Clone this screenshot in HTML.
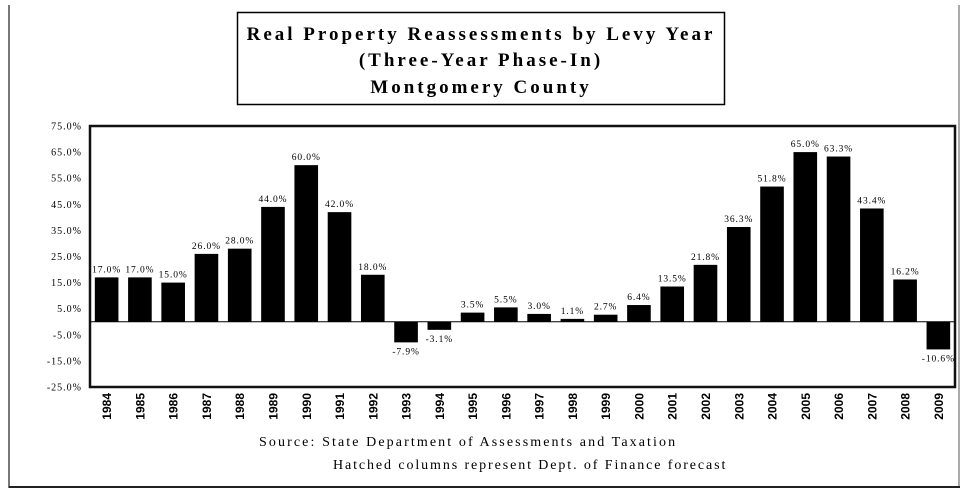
<!DOCTYPE html>
<html><head><meta charset="utf-8"><style>
html,body{margin:0;padding:0;background:#fff;width:965px;height:491px;overflow:hidden}
svg{display:block}
text{font-family:"Liberation Serif",serif;fill:#000}
</style></head><body>
<svg id="chart" width="965" height="491">
<line x1="9" y1="5" x2="9" y2="488" stroke="#777" stroke-width="2"/>
<line x1="959" y1="5" x2="959" y2="486" stroke="#555" stroke-width="1"/>
<line x1="9" y1="487" x2="960" y2="487" stroke="#222" stroke-width="2"/>
<g>
<rect x="237.5" y="12.5" width="487" height="92" fill="#fff" stroke="#000" stroke-width="1.5"/>
<text x="481" y="40" text-anchor="middle" font-size="19" font-weight="bold" letter-spacing="3">Real Property Reassessments by Levy Year</text>
<text x="481" y="66" text-anchor="middle" font-size="19" font-weight="bold" letter-spacing="3">(Three-Year Phase-In)</text>
<text x="481" y="93" text-anchor="middle" font-size="19" font-weight="bold" letter-spacing="3">Montgomery County</text>
</g>
<rect x="90" y="126" width="865" height="261" fill="#fff" stroke="#111" stroke-width="2.5"/>
<g id="bars"></g>
<g id="yaxis"></g>
<g id="xaxis"></g>
<text x="259" y="446" font-size="14" letter-spacing="2.1">Source:  State Department of Assessments and Taxation</text>
<text x="333" y="469" font-size="14" letter-spacing="1.9">Hatched columns represent Dept. of Finance forecast</text>
</svg>
<script>
const years = ["1984","1985","1986","1987","1988","1989","1990","1991","1992","1993","1994","1995","1996","1997","1998","1999","2000","2001","2002","2003","2004","2005","2006","2007","2008","2009"];
const values = [17.0,17.0,15.0,26.0,28.0,44.0,60.0,42.0,18.0,-7.9,-3.1,3.5,5.5,3.0,1.1,2.7,6.4,13.5,21.8,36.3,51.8,65.0,63.3,43.4,16.2,-10.6];
const labels = ["17.0%","17.0%","15.0%","26.0%","28.0%","44.0%","60.0%","42.0%","18.0%","-7.9%","-3.1%","3.5%","5.5%","3.0%","1.1%","2.7%","6.4%","13.5%","21.8%","36.3%","51.8%","65.0%","63.3%","43.4%","16.2%","-10.6%"];
const yTicks = [75,65,55,45,35,25,15,5,-5,-15,-25];
const yTickLabels = ["75.0%","65.0%","55.0%","45.0%","35.0%","25.0%","15.0%","5.0%","-5.0%","-15.0%","-25.0%"];
const NS="http://www.w3.org/2000/svg";
const L=90,R=955,T=126,B=387,ymax=75,ymin=-25;
const y=v=>T+(ymax-v)/(ymax-ymin)*(B-T);
const band=(R-L)/years.length;
const xc=i=>L+band*(i+0.5);
const bw=band*0.71;
const bars=document.getElementById('bars'),ya=document.getElementById('yaxis'),xa=document.getElementById('xaxis');
function mk(t,a,p){const e=document.createElementNS(NS,t);for(const k in a)e.setAttribute(k,a[k]);p.appendChild(e);return e;}
years.forEach((yr,i)=>{
  const v=values[i],y0=y(0),yv=y(v);
  const r=mk('rect',{x:xc(i)-bw/2,y:Math.min(y0,yv),width:bw,height:Math.abs(yv-y0),fill:'#000'},bars);
  
  
  const t=mk('text',{x:xc(i),y:v>=0?yv-5:yv+12,'text-anchor':'middle','font-size':'9.5','letter-spacing':'0.9'},bars);
  t.textContent=labels[i];
  
  
  const xt=mk('text',{transform:`translate(${xc(i)+4.5},393) rotate(-90)`,'text-anchor':'end','font-size':'12','font-weight':'bold',style:'font-family:"Liberation Sans",sans-serif'},xa);
  xt.textContent=yr;
  
  
});
const zl=mk('line',{x1:L,x2:R,y1:y(0),y2:y(0),stroke:'#000','stroke-width':1},bars);


yTicks.forEach((v,i)=>{
  const t=mk('text',{x:82,y:y(v)+3.5,'text-anchor':'end','font-size':'10','letter-spacing':'1'},ya);
  t.textContent=yTickLabels[i];
  
  
});
</script>
</body></html>
